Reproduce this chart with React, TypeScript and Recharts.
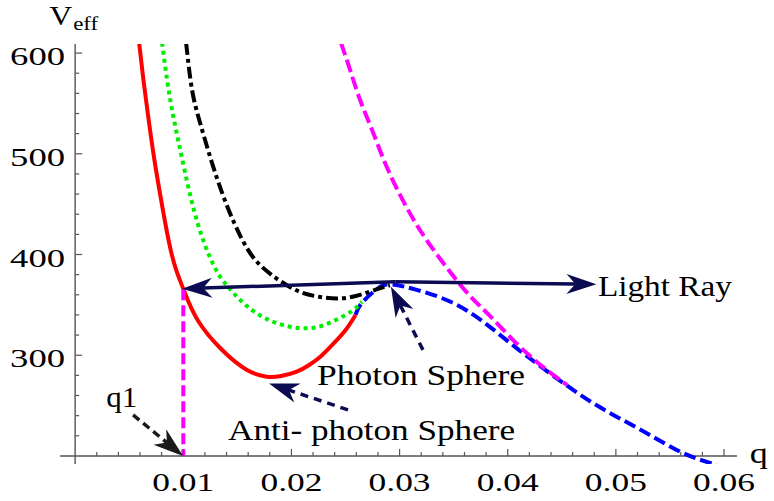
import React from 'react';
import { LineChart, Line, XAxis, YAxis, ReferenceLine, ReferenceDot } from 'recharts';

// ---- data (q, V_eff) ----
const redQ = [0.00592, 0.00629, 0.00675, 0.0073, 0.00795, 0.00869, 0.00934, 0.01004, 0.01132, 0.01359, 0.01589, 0.01771, 0.01905, 0.02043, 0.02164, 0.02275, 0.02386, 0.02501, 0.02593];
const redV = [610.0, 575.3, 537.6, 495.9, 454.2, 411.5, 384.7, 364.8, 335.0, 305.2, 285.4, 278.7, 279.4, 283.4, 290.3, 299.3, 311.2, 325.1, 340.0];

const greenQ = [0.00804, 0.0085, 0.00896, 0.00952, 0.01017, 0.01091, 0.01183, 0.01303, 0.01414, 0.01525, 0.01673, 0.01858, 0.02061, 0.02246, 0.02412, 0.0256, 0.02652];
const greenV = [610.2, 573.5, 543.7, 513.9, 481.1, 447.3, 414.5, 384.7, 367.9, 354.9, 342.0, 332.1, 327.1, 328.1, 335.1, 344.0, 353.0];

const blackQ = [0.01026, 0.01081, 0.01155, 0.01248, 0.01349, 0.0147, 0.01599, 0.01728, 0.01895, 0.02079, 0.02264, 0.02449, 0.02634, 0.028, 0.02911];
const blackV = [610.2, 563.5, 530.8, 497.0, 464.2, 431.5, 404.6, 387.7, 373.8, 362.9, 357.9, 356.4, 359.9, 365.9, 369.4];

const blueQ = [0.02593, 0.0265, 0.028, 0.0293, 0.03158, 0.03466, 0.03771, 0.04082, 0.0439, 0.04695, 0.05006, 0.05314, 0.05619, 0.05931];
const blueV = [340.0, 351.7, 366.4, 370.3, 364.9, 353.3, 333.4, 307.0, 282.1, 258.9, 239.0, 220.9, 203.0, 191.0];

const magentaQ = [0.02458, 0.02542, 0.02634, 0.02745, 0.02865, 0.03004, 0.03142, 0.03281, 0.03466, 0.03651, 0.03835, 0.04076, 0.04325, 0.04547];
const magentaV = [610.2, 583.4, 553.6, 523.8, 491.0, 459.2, 432.4, 409.6, 382.8, 358.9, 339.1, 312.3, 288.4, 270.5];

// light ray: left tip, apex, right tip
const rayQ = [0.0099, 0.0296, 0.0482];
const rayV = [366.0, 372.9, 370.4];

// q1 marker
const q1Value = 0.01;
const q1Top = 365.5;

// annotation arrows: [tailQ, tailV, tipQ, tipV]
const q1Arrow = [0.00536, 240.7, 0.00998, 200];
const photonArrow = [0.03216, 305.3, 0.0292, 367.9];
const antiArrow = [0.02523, 245.7, 0.01793, 272.0];

// ticks
const xMajorTicks = [0.01, 0.02, 0.03, 0.04, 0.05, 0.06];
const xTickLabels = ['0.01', '0.02', '0.03', '0.04', '0.05', '0.06'];
const xMinorTicks = [0.002, 0.004, 0.006, 0.008, 0.012, 0.014, 0.016, 0.018, 0.022, 0.024, 0.026, 0.028, 0.032, 0.034, 0.036, 0.038, 0.042, 0.044, 0.046, 0.048, 0.052, 0.054, 0.056, 0.058];
const yMajorTicks = [300, 400, 500, 600];
const yTickLabels = ['300', '400', '500', '600'];
const yMinorTicks = [220, 240, 260, 280, 320, 340, 360, 380, 420, 440, 460, 480, 520, 540, 560, 580];

const zip = (qs: number[], vs: number[]) => qs.map((q, i) => ({ q, v: vs[i] }));
const redData = zip(redQ, redV);
const greenData = zip(greenQ, greenV);
const blackData = zip(blackQ, blackV);
const blueData = zip(blueQ, blueV);
const magentaData = zip(magentaQ, magentaV);

const SERIF = 'Liberation Serif, DejaVu Serif, serif';
const AXIS = '#555555';
const NAVY = '#0b0b52';

const arrowShape = (color: string, width: number, dash?: string) => (props: any) => {
  const { x1, y1, x2, y2 } = props;
  const dx = x2 - x1;
  const dy = y2 - y1;
  const len = Math.hypot(dx, dy) || 1;
  const ux = dx / len;
  const uy = dy / len;
  const nx = -uy;
  const ny = ux;
  const L = 30;
  const W = 10;
  const N = 9;
  const bx = x2 - ux * L;
  const by = y2 - uy * L;
  const cx = x2 - ux * (L - N);
  const cy = y2 - uy * (L - N);
  const pts = `${x2},${y2} ${bx + nx * W},${by + ny * W} ${cx},${cy} ${bx - nx * W},${by - ny * W}`;
  return (
    <g>
      <line x1={x1} y1={y1} x2={cx} y2={cy} stroke={color} strokeWidth={width} strokeDasharray={dash} />
      <polygon points={pts} fill={color} />
    </g>
  );
};

const xTickShape = (label: string | null) => (props: any) => {
  const { cx, cy } = props;
  return (
    <g>
      <line x1={cx} y1={cy} x2={cx} y2={cy - (label ? 7 : 4)} stroke={AXIS} strokeWidth={1.2} />
      {label ? (
        <text x={cx} y={cy + 35} textAnchor="middle" fontFamily={SERIF} fontSize={26} fill="#000" textLength={62} lengthAdjust="spacingAndGlyphs">
          {label}
        </text>
      ) : null}
    </g>
  );
};

const yTickShape = (label: string | null) => (props: any) => {
  const { cx, cy } = props;
  return (
    <g>
      <line x1={cx} y1={cy} x2={cx + (label ? 7 : 4)} y2={cy} stroke={AXIS} strokeWidth={1.2} />
      {label ? (
        <text x={cx - 10} y={cy + 12} textAnchor="end" fontFamily={SERIF} fontSize={26} fill="#000" textLength={55} lengthAdjust="spacingAndGlyphs">
          {label}
        </text>
      ) : null}
    </g>
  );
};

const textShape = (label: string, size: number, width: number) => (props: any) => {
  const { cx, cy } = props;
  return (
    <text x={cx} y={cy} fontFamily={SERIF} fontSize={size} fill="#000" textLength={width} lengthAdjust="spacingAndGlyphs">
      {label}
    </text>
  );
};

const veffShape = (props: any) => {
  const { cx, cy } = props;
  return (
    <g>
      <text x={cx} y={cy} fontFamily={SERIF} fontSize={28} fill="#000" textLength={23} lengthAdjust="spacingAndGlyphs">V</text>
      <text x={cx + 24} y={cy + 5} fontFamily={SERIF} fontSize={19} fill="#000" textLength={25} lengthAdjust="spacingAndGlyphs">eff</text>
    </g>
  );
};

export default function App() {
  return (
    <div style={{ position: 'absolute', left: 0, top: 0, background: '#fff' }}>
      <LineChart width={774} height={501} margin={{ top: 44, right: 37, bottom: 37, left: 60 }}>
        <XAxis type="number" dataKey="q" domain={[-0.0014, 0.0612]} hide allowDataOverflow />
        <YAxis type="number" dataKey="v" domain={[192, 609]} hide allowDataOverflow />

        {/* axes */}
        <ReferenceLine y={200} stroke={AXIS} strokeWidth={1.4} />
        <ReferenceLine x={0} stroke={AXIS} strokeWidth={1.4} />
        {xMinorTicks.map((t) => (
          <ReferenceDot key={'xm' + t} x={t} y={200} r={0} shape={xTickShape(null)} />
        ))}
        {xMajorTicks.map((t, i) => (
          <ReferenceDot key={'xM' + t} x={t} y={200} r={0} shape={xTickShape(xTickLabels[i])} />
        ))}
        {yMinorTicks.map((t) => (
          <ReferenceDot key={'ym' + t} x={0} y={t} r={0} shape={yTickShape(null)} />
        ))}
        {yMajorTicks.map((t, i) => (
          <ReferenceDot key={'yM' + t} x={0} y={t} r={0} shape={yTickShape(yTickLabels[i])} />
        ))}

        {/* curves */}
        <Line data={blueData} dataKey="v" type="natural" stroke="#0000ff" strokeWidth={4} strokeDasharray="12 5" dot={false} activeDot={false} isAnimationActive={false} />
        <Line data={blackData} dataKey="v" type="natural" stroke="#000000" strokeWidth={4} strokeDasharray="12 4 4 4" dot={false} activeDot={false} isAnimationActive={false} />
        <Line data={greenData} dataKey="v" type="natural" stroke="#00ee00" strokeWidth={4} strokeDasharray="4 4" dot={false} activeDot={false} isAnimationActive={false} />
        <Line data={redData} dataKey="v" type="natural" stroke="#ff0000" strokeWidth={4} dot={false} activeDot={false} isAnimationActive={false} />
        <Line data={magentaData} dataKey="v" type="natural" stroke="#ff00ff" strokeWidth={4} strokeDasharray="13 5" dot={false} activeDot={false} isAnimationActive={false} />

        {/* q1 vertical */}
        <ReferenceLine segment={[{ x: q1Value, y: q1Top }, { x: q1Value, y: 200 }]} stroke="#ff00ff" strokeWidth={4} strokeDasharray="11 5" />

        {/* light ray */}
        <ReferenceLine segment={[{ x: rayQ[1], y: rayV[1] }, { x: rayQ[0], y: rayV[0] }]} shape={arrowShape(NAVY, 3.5)} />
        <ReferenceLine segment={[{ x: rayQ[1], y: rayV[1] }, { x: rayQ[2], y: rayV[2] }]} shape={arrowShape(NAVY, 3.5)} />

        {/* annotation arrows */}
        <ReferenceLine segment={[{ x: q1Arrow[0], y: q1Arrow[1] }, { x: q1Arrow[2], y: q1Arrow[3] }]} shape={arrowShape('#1a1a1a', 3.5, '8 5')} />
        <ReferenceLine segment={[{ x: photonArrow[0], y: photonArrow[1] }, { x: photonArrow[2], y: photonArrow[3] }]} shape={arrowShape(NAVY, 3.5, '8 6')} />
        <ReferenceLine segment={[{ x: antiArrow[0], y: antiArrow[1] }, { x: antiArrow[2], y: antiArrow[3] }]} shape={arrowShape(NAVY, 3.5, '8 6')} />

        {/* labels */}
        <ReferenceDot x={0.04834} y={358.9} r={0} shape={textShape('Light Ray', 30, 134)} />
        <ReferenceDot x={0.02237} y={270.5} r={0} shape={textShape('Photon Sphere', 30, 208)} />
        <ReferenceDot x={0.01414} y={215.9} r={0} shape={textShape('Anti- photon Sphere', 30, 287)} />
        <ReferenceDot x={0.00287} y={248.7} r={0} shape={textShape('q1', 30, 31)} />
        <ReferenceDot x={-0.0024} y={628} r={0} ifOverflow="visible" shape={veffShape} />
        <ReferenceDot x={0.06238} y={193} r={0} ifOverflow="visible" shape={textShape('q', 30, 18)} />
      </LineChart>
    </div>
  );
}
